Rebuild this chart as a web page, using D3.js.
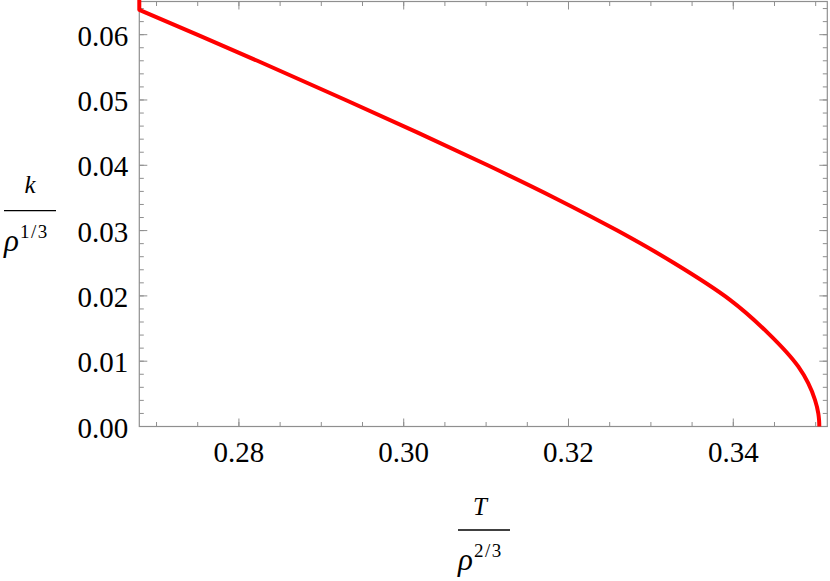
<!DOCTYPE html>
<html>
<head>
<meta charset="utf-8">
<script src="https://cdn.jsdelivr.net/npm/d3@7"></script>
</head>
<body style="margin:0">
<svg id="chart" width="830" height="581"></svg>
<script>
// ---- data ----
const tValues = [0.35044, 0.35041, 0.35032, 0.34992, 0.34790, 0.34425, 0.33960, 0.33285,
                 0.32593, 0.31833, 0.31020, 0.30170, 0.29295, 0.28224, 0.27514, 0.26791, 0.26791];
const kValues = [0.00000, 0.00100, 0.00200, 0.00406, 0.00916, 0.01427, 0.01940, 0.02500,
                 0.03000, 0.03500, 0.04000, 0.04500, 0.05000, 0.05600, 0.05990, 0.06380, 0.06520];
const xDomain = [0.26791, 0.35141];
const yDomain = [0, 0.06508];
const xMajorTicks = [0.28, 0.30, 0.32, 0.34];
const yMajorTicks = [0.00, 0.01, 0.02, 0.03, 0.04, 0.05, 0.06];
const xMinorTicks = d3.range(0.27, 0.3505, 0.005);
const yMinorTicks = d3.range(0, 0.0645, 0.002);

const svg = d3.select("#chart");
const L = 139.3, R = 827.3, T = 1.5, B = 426.5;
const x = d3.scaleLinear().domain(xDomain).range([L, R]);
const y = d3.scaleLinear().domain(yDomain).range([B, T]);

const frameColor = "#8f8f8f";
const fmt = d3.format(".2f");
const FONT = '"Liberation Serif"';

// ticks on all four sides, pointing inward
const g = svg.append("g");
function tickSet(vals, len, side) {
  vals.forEach(v => {
    if (side === "bottom" || side === "top") {
      const px = x(v);
      if (px < L - 0.5 || px > R + 0.5) return;
      const y0 = side === "bottom" ? B : T;
      const y1 = side === "bottom" ? B - len : T + len;
      g.append("line").attr("x1", px).attr("x2", px).attr("y1", y0).attr("y2", y1)
        .attr("stroke", frameColor).attr("stroke-width", 1);
    } else {
      const py = y(v);
      if (py < T - 0.5 || py > B + 0.5) return;
      const x0 = side === "left" ? L : R;
      const x1 = side === "left" ? L + len : R - len;
      g.append("line").attr("x1", x0).attr("x2", x1).attr("y1", py).attr("y2", py)
        .attr("stroke", frameColor).attr("stroke-width", 1);
    }
  });
}
["bottom", "top"].forEach(s => { tickSet(xMinorTicks, 4.5, s); tickSet(xMajorTicks, 8, s); });
["left", "right"].forEach(s => { tickSet(yMinorTicks, 4.5, s); tickSet(yMajorTicks, 8, s); });

// frame
svg.append("rect").attr("x", L).attr("y", T).attr("width", R - L).attr("height", B - T)
  .attr("fill", "none").attr("stroke", frameColor).attr("stroke-width", 1.2);

// tick labels
xMajorTicks.forEach(d => {
  svg.append("text").style("font-family", FONT).attr("font-family", "Liberation Serif")
    .attr("font-size", 29).attr("x", x(d)).attr("y", B + 35)
    .attr("text-anchor", "middle").attr("fill", "#000").text(fmt(d));
});
yMajorTicks.forEach(d => {
  svg.append("text").style("font-family", FONT).attr("font-family", "Liberation Serif")
    .attr("font-size", 29).attr("x", L - 11).attr("y", y(d) + 11)
    .attr("text-anchor", "end").attr("fill", "#000").text(fmt(d));
});

// curve: smooth main branch + straight final vertical piece
const pts = tValues.map((t, i) => [t, kValues[i]]);
const main = pts.slice(0, pts.length - 1);
const tail = pts.slice(pts.length - 2);
const smooth = d3.line().x(d => x(d[0])).y(d => y(d[1])).curve(d3.curveMonotoneY);
const straight = d3.line().x(d => x(d[0])).y(d => y(d[1]));
svg.append("path").attr("d", smooth(main)).attr("fill", "none")
  .attr("stroke", "#ff0000").attr("stroke-width", 4).attr("stroke-linejoin", "round");
svg.append("path").attr("d", straight(tail)).attr("fill", "none")
  .attr("stroke", "#ff0000").attr("stroke-width", 4).attr("stroke-linecap", "round");

// axis titles (fractions)
function fractionLabel(cx, lineY, num, numDx, numDy, supText) {
  svg.append("text").style("font-family", FONT).attr("font-family", "Liberation Serif")
    .style("font-style", "italic").attr("font-size", 25)
    .attr("x", cx + numDx).attr("y", lineY - numDy).attr("text-anchor", "middle").attr("fill", "#000").text(num);
  svg.append("line").attr("x1", cx - 26).attr("x2", cx + 26).attr("y1", lineY).attr("y2", lineY)
    .attr("stroke", "#000").attr("stroke-width", 1.3);
  svg.append("text").style("font-family", FONT).attr("font-family", "Liberation Serif")
    .style("font-style", "italic").attr("font-size", 31)
    .attr("x", cx - 26).attr("y", lineY + 40).attr("fill", "#000").text("ρ");
  svg.append("text").style("font-family", FONT).attr("font-family", "Liberation Serif")
    .attr("font-size", 19).style("letter-spacing", "1.5px")
    .attr("x", cx - 10).attr("y", lineY + 27).attr("fill", "#000").text(supText);
}
fractionLabel(30, 210.7, "k", 0, 17.5, "1/3");
fractionLabel(484, 530, "T", -4, 15, "2/3");
</script>
</body>
</html>
